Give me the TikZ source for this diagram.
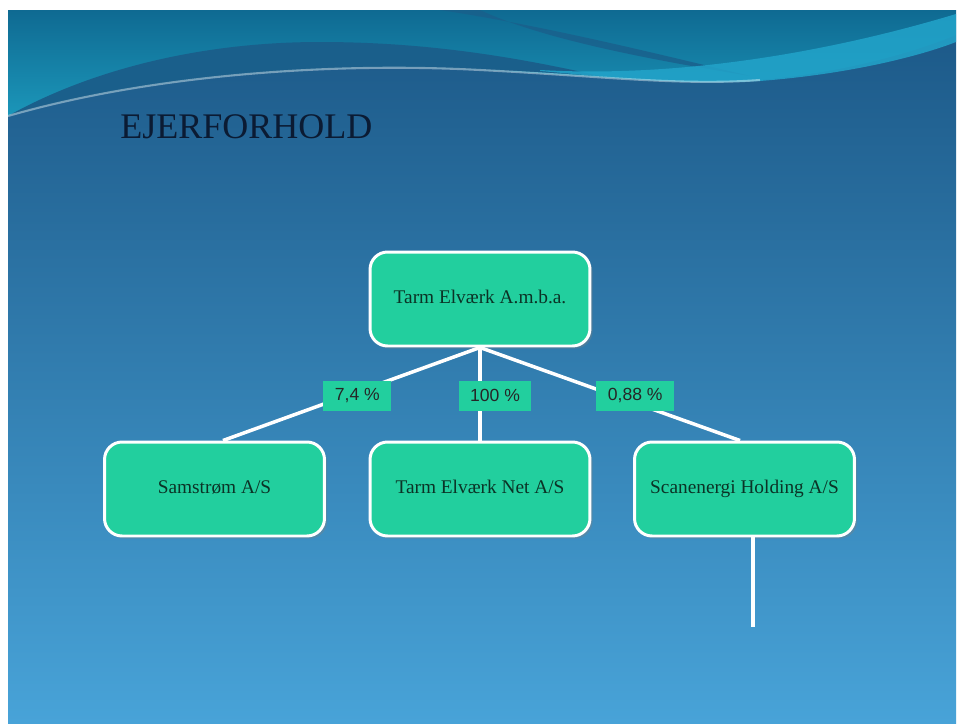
\documentclass[tikz,border=0pt]{standalone}
\usepackage{fontspec}
\setmainfont{Liberation Serif}
\newfontfamily\arialfont{Liberation Sans}
\usetikzlibrary{positioning,shadows}
\definecolor{mint}{HTML}{22CF9E}
\definecolor{mintink}{HTML}{0B3326}
\definecolor{titleink}{HTML}{0B1B33}
\definecolor{slidetop}{HTML}{1B5786}
\definecolor{slidemid}{HTML}{2A72A6}
\definecolor{slidebot}{HTML}{48A3D8}
\definecolor{tealtop}{HTML}{0F6A92}
\definecolor{tealbot}{HTML}{1B96B9}
\definecolor{swoopdark}{HTML}{1A5F8B}
\definecolor{swoopcyan}{HTML}{22A4CA}
\tikzset{
  selskab/.style={rectangle,rounded corners=0.35cm,draw=white,line width=1.7pt,fill=mint,
    minimum width=4.4cm,minimum height=1.88cm,text=mintink,text height=1.6ex,text depth=0.4ex,
    font=\fontsize{11}{13}\selectfont,
    drop shadow={opacity=0.35,shadow xshift=1.5pt,shadow yshift=-1.5pt}},
  andel/.style={rectangle,fill=mint,inner xsep=6.5pt,minimum height=0.6cm,text=black!85,
    font=\arialfont\fontsize{10}{12}\selectfont},
  ejerlinje/.style={draw=white,line width=2pt}
}
\begin{document}
\begin{tikzpicture}[x=0.02cm,y=-0.02cm]
\useasboundingbox (0,0) rectangle (957,724);
\fill[white] (0,0) rectangle (957,724);
\shade[top color=slidetop,middle color=slidemid,bottom color=slidebot] (8,10) rectangle (956,723);
\shade[top color=tealtop,bottom color=tealbot] (8,10) -- (956,10) -- (956,35) .. controls (920,50) and (850,72) .. (760,80) .. controls (680,86) and (600,76) .. (480,70) .. controls (330,62) and (150,75) .. (8,116) -- cycle;
\fill[swoopdark] (8,116) .. controls (90,70) and (200,42) .. (320,42) .. controls (430,42) and (520,58) .. (600,76) .. controls (560,73) and (520,71) .. (480,70) .. controls (330,62) and (150,75) .. (8,116) -- cycle;
\fill[swoopdark,opacity=0.8] (440,10) .. controls (540,25) and (650,52) .. (750,76) .. controls (640,58) and (540,38) .. (480,10) -- cycle;
\fill[swoopcyan,opacity=0.85] (540,70) .. controls (680,78) and (830,52) .. (956,14) -- (956,42) .. controls (920,56) and (850,74) .. (760,81) .. controls (680,86) and (600,76) .. (540,71) -- cycle;
\draw[white,opacity=0.4,line width=1.2pt] (8,116) .. controls (150,75) and (330,62) .. (480,70) .. controls (600,76) and (680,86) .. (760,80);

\node[anchor=base west,inner sep=0pt,text=titleink,font=\fontsize{20.5}{25}\selectfont] (titel) at (120,138) {EJERFORHOLD};

\node[selskab] (moder) at (480,299) {Tarm Elværk A.m.b.a.};
\node[selskab] (sam) at (214.5,489) {Samstrøm A/S};
\node[selskab] (net) at (480,489) {Tarm Elværk Net A/S};
\node[selskab] (scan) at (744.5,489) {Scanenergi Holding A/S};
\coordinate[below=1.8cm of scan.south,xshift=0.17cm] (hale);

\draw[ejerlinje] (moder.south) -- node[andel,pos=0.52,xshift=0.22cm] (a1) {7,4 \%} ([xshift=0.17cm]sam.north);
\draw[ejerlinje] (moder.south) -- node[andel,pos=0.52,xshift=0.3cm] (a2) {100 \%} (net.north);
\draw[ejerlinje] (moder.south) -- node[andel,pos=0.52,xshift=0.4cm] (a3) {0,88 \%} ([xshift=-0.09cm]scan.north);
\draw[ejerlinje] ([xshift=0.17cm]scan.south) -- (hale);
\end{tikzpicture}
\end{document}
